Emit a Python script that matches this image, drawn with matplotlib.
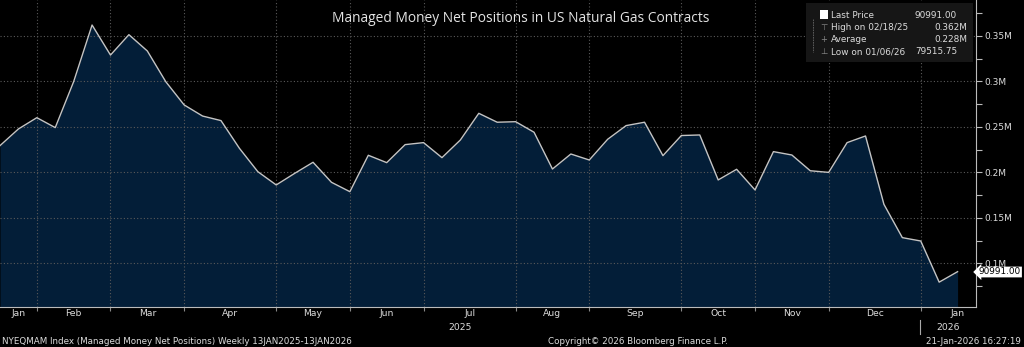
import numpy as np
import pandas as pd
import matplotlib
matplotlib.use("Agg")
import matplotlib.pyplot as plt
import matplotlib.patches as mpatches
import matplotlib.transforms as mtransforms

# weekly managed money net positions (millions of contracts), 14 Jan 2025 .. 13 Jan 2026
values = [0.2295, 0.2478, 0.2602, 0.2493, 0.2998, 0.3620, 0.3290, 0.3514, 0.3335, 0.2998,
          0.2742, 0.2620, 0.2570, 0.2266, 0.2009, 0.1863, 0.1990, 0.2112, 0.1892, 0.1789,
          0.2189, 0.2108, 0.2306, 0.2328, 0.2163, 0.2357, 0.2650, 0.2552, 0.2558, 0.2442,
          0.2038, 0.2203, 0.2137, 0.2365, 0.2515, 0.2552, 0.2185, 0.2406, 0.2412, 0.1918,
          0.2035, 0.1808, 0.2229, 0.2192, 0.2019, 0.2001, 0.2328, 0.2401, 0.1650, 0.1284,
          0.1247, 0.0795, 0.0910]
dates = pd.date_range("2025-01-14", periods=len(values), freq="7D")
yticks = [0.1, 0.15, 0.2, 0.25, 0.3, 0.35]
ytick_labels = ["0.1M", "0.15M", "0.2M", "0.25M", "0.3M", "0.35M"]
title = "Managed Money Net Positions in US Natural Gas Contracts"
legend_rows = [("Last Price", "90991.00"), ("High on 02/18/25", "0.362M"),
               ("Average", "0.228M"), ("Low on 01/06/26", "79515.75")]
last_label = "90991.00"

W, H = 1024, 347
BG = "black"
FILL = "#031e38"
LINE = "#c4c4c4"
TXT = "#dcdcdc"
GRID = "#5a5a5a"

fig = plt.figure(figsize=(W / 100, H / 100), dpi=100, facecolor=BG)
ax = fig.add_axes([0, 1 - 307 / H, 976 / W, 307 / H], facecolor=BG)

x = np.arange(len(values))
ax.fill_between(x, values, 0, color=FILL, lw=0, zorder=1)
ax.plot(x, values, color=LINE, lw=1.0, zorder=3)
ax.set_xlim(0, 53)
ax.set_ylim(0.0522, 0.3895)

# month boundaries = last weekly point of each month
month_idx = dates.month + 12 * (dates.year - 2025)
ends = [i for i in range(len(dates) - 1) if month_idx[i] != month_idx[i + 1]]
for e in ends:
    ax.axvline(e, color=GRID, lw=0.8, ls=(0, (1, 2)), zorder=2)
for yv in yticks:
    ax.axhline(yv, color=GRID, lw=0.8, ls=(0, (1, 2)), zorder=2)

ax.yaxis.tick_right()
ax.set_yticks(yticks)
ax.set_yticklabels(ytick_labels)
ax.set_yticks(np.arange(0.075, 0.38, 0.05), minor=True)
ax.tick_params(axis="y", which="both", colors="#bbbbbb", labelcolor=TXT, labelsize=6.5,
               length=4, width=0.8, pad=2, direction="out")
ax.set_xticks(ends)
ax.set_xticklabels([])
ax.tick_params(axis="x", colors="#888888", length=3, width=0.8, direction="out")
for s in ["top", "left"]:
    ax.spines[s].set_visible(False)
for s in ["right", "bottom"]:
    ax.spines[s].set_color("#bbbbbb")
    ax.spines[s].set_linewidth(0.8)

# month labels centred between boundaries
bounds = [0] + ends + [54]
trans = mtransforms.blended_transform_factory(ax.transData, fig.transFigure)
for i in range(len(bounds) - 1):
    d = dates[bounds[i] + 1] if i > 0 else dates[0]
    ax.text((bounds[i] + bounds[i + 1]) / 2, 1 - 314 / H, d.strftime("%b"), transform=trans,
            ha="center", va="center", color=TXT, fontsize=6.7, clip_on=False)
ax.text(25, 1 - 327 / H, "2025", transform=trans, ha="center", va="center",
        color=TXT, fontsize=6.7, clip_on=False)
ax.text(51.5, 1 - 327 / H, "2026", transform=trans, ha="center", va="center",
        color=TXT, fontsize=6.7, clip_on=False)
fig.add_artist(plt.Line2D([920 / W, 920 / W], [1 - 320 / H, 1 - 334 / H], color="#aaaaaa", lw=0.8))

# footer
fy = 1 - 341 / H
fig.text(2 / W, fy, "NYEQMAM Index (Managed Money Net Positions) Weekly 13JAN2025-13JAN2026",
         color=TXT, fontsize=6.3, va="center", ha="left")
fig.text(548 / W, fy, "Copyright\u00a9 2026 Bloomberg Finance L.P.", color=TXT, fontsize=6.3,
         va="center", ha="left")
fig.text(1021 / W, fy, "21-Jan-2026 16:27:19", color=TXT, fontsize=6.3, va="center", ha="right")

# title
fig.text(521 / W, 1 - 18 / H, title, color="#e4e4e4", fontsize=9.9, family="Open Sans",
         ha="center", va="center")

# legend box
fig.add_artist(mpatches.Rectangle((806 / W, 1 - 62 / H), 167 / W, 59 / H,
                                  transform=fig.transFigure, facecolor="#161616",
                                  edgecolor="none", zorder=5))
fig.add_artist(mpatches.Rectangle((820 / W, 1 - 19 / H), 8 / W, 9 / H,
                                  transform=fig.transFigure, facecolor="white",
                                  edgecolor="none", zorder=6))
fig.add_artist(plt.Line2D([813 / W, 813 / W], [1 - 19 / H, 1 - 52 / H], color="#666666",
                          lw=0.6, ls=(0, (2, 1)), zorder=6))
rows_y = [15, 27, 40, 52]
icons = ["", "\u22a4", "+", "\u22a5"]
for (lab, val), ry, ic in zip(legend_rows, rows_y, icons):
    yy = 1 - ry / H
    if ic:
        fig.text(824 / W, yy, ic, color="#888888", fontsize=6, ha="center", va="center", zorder=7)
    fig.text(831 / W, yy, lab, color=TXT, fontsize=6.4, ha="left", va="center", zorder=7)
    right = 967 if val.endswith("M") else 957
    fig.text(right / W, yy, val, color=TXT, fontsize=6.4, ha="right", va="center", zorder=7)

# last price tag
ly = 1 - 272 / H
fig.text(1021 / W, ly, last_label, color="black", fontsize=6.4, ha="right", va="center", zorder=8,
         bbox=dict(boxstyle="larrow,pad=0.1", facecolor="white", edgecolor="none"))

fig.savefig("out.png", dpi=100, facecolor=BG)
